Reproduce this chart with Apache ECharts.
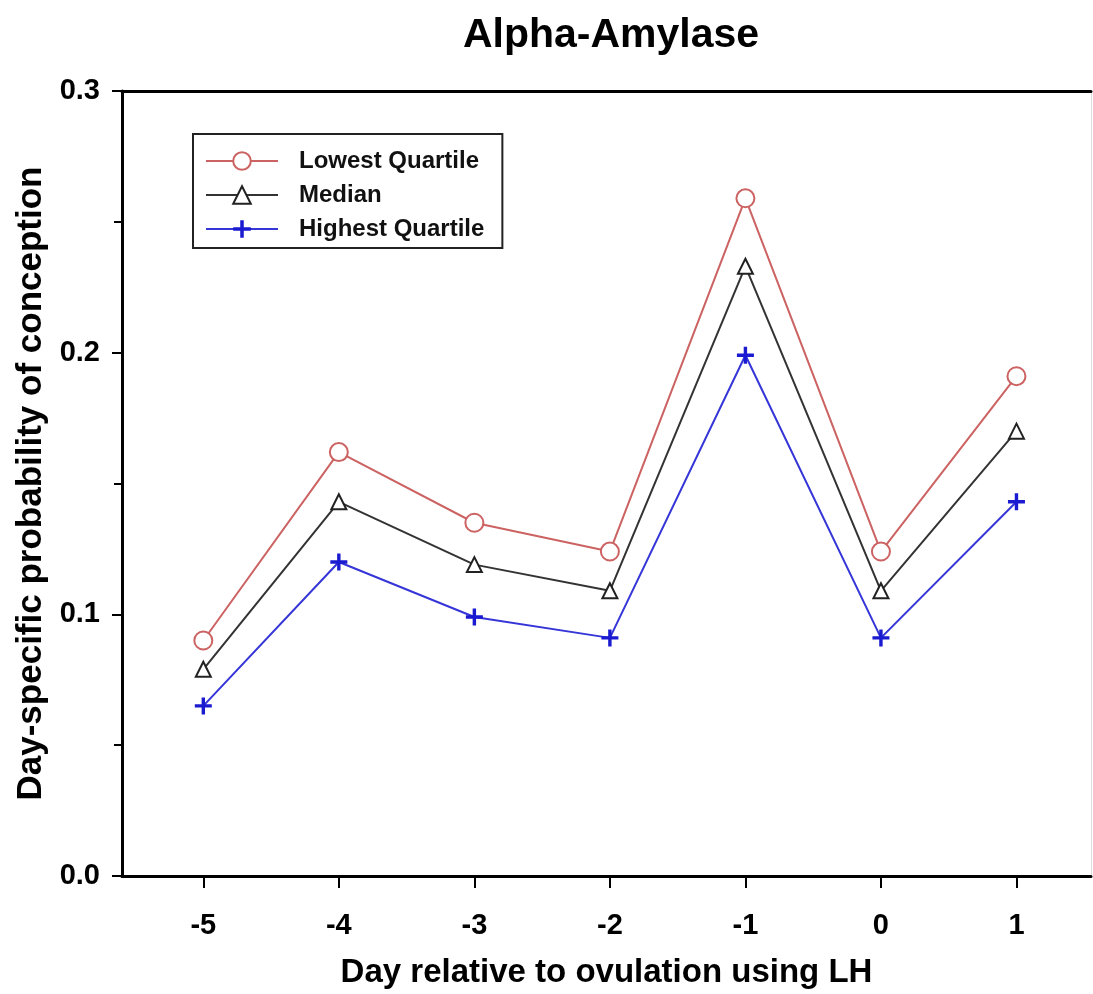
<!DOCTYPE html>
<html>
<head>
<meta charset="utf-8">
<script src="https://cdn.jsdelivr.net/npm/echarts@6/dist/echarts.min.js"></script>
<style>
  html, body { margin: 0; padding: 0; background: #fff; }
  #chart { width: 1093px; height: 994px; }
</style>
</head>
<body>
<div id="chart"></div>
<script>
const days = [-5, -4, -3, -2, -1, 0, 1];
const lowest = [0.090, 0.162, 0.135, 0.124, 0.259, 0.124, 0.191];
const median = [0.079, 0.143, 0.119, 0.109, 0.233, 0.109, 0.170];
const highest = [0.065, 0.120, 0.099, 0.091, 0.199, 0.091, 0.143];

const pair = vals => days.map((d, i) => [d, vals[i]]);
const plus = 'path://M4,0h2v4h4v2h-4v4h-2v-4h-4v-2h4z';
const font = 'Arial, "Liberation Sans", sans-serif';

const chart = echarts.init(document.getElementById('chart'));
chart.setOption({
  backgroundColor: '#fff',
  animation: false,
  title: {
    text: 'Alpha-Amylase',
    left: 606, top: 10, textAlign: 'center',
    textStyle: { fontFamily: font, fontSize: 41, fontWeight: 'bold', color: '#000' }
  },
  legend: {
    orient: 'vertical',
    left: 193, top: 134,
    padding: [15, 18, 7, 12],
    itemWidth: 72, itemHeight: 22, itemGap: 10,
    borderColor: '#222', borderWidth: 2,
    textStyle: { fontFamily: font, fontSize: 24, fontWeight: 'bold', color: '#111', padding: [0, 0, 0, 16] },
    data: ['Lowest Quartile', 'Median', 'Highest Quartile']
  },
  grid: { left: 122, right: 2, top: 91, bottom: 118 },
  xAxis: [
    {
      type: 'value', min: -5.6, max: 1.55,
      name: 'Day relative to ovulation using LH',
      nameLocation: 'middle', nameGap: 80,
      nameTextStyle: { fontFamily: font, fontSize: 33, fontWeight: 'bold', color: '#000' },
      axisLine: { onZero: false, lineStyle: { color: '#000', width: 3 } },
      axisTick: { show: true, length: 12, customValues: days, lineStyle: { color: '#000', width: 2 } },
      axisLabel: { customValues: days, margin: 35, fontFamily: font, fontSize: 29, fontWeight: 'bold', color: '#000' },
      splitLine: { show: false }
    },
    {
      type: 'value', position: 'top', min: -5.6, max: 1.55,
      axisLine: { show: true, onZero: false, lineStyle: { color: '#000', width: 3 } },
      axisTick: { show: false }, axisLabel: { show: false }, splitLine: { show: false }
    }
  ],
  yAxis: [
    {
      type: 'value', min: 0, max: 0.3, interval: 0.1,
      name: 'Day-specific probability of conception',
      nameLocation: 'middle', nameGap: 72,
      nameTextStyle: { fontFamily: font, fontSize: 35, fontWeight: 'bold', color: '#000' },
      axisLine: { show: true, onZero: false, lineStyle: { color: '#000', width: 3 } },
      axisTick: { show: true, length: 10, lineStyle: { color: '#000', width: 2 } },
      minorTick: { show: true, splitNumber: 2, length: 8, lineStyle: { color: '#000', width: 2 } },
      axisLabel: { margin: 22, fontFamily: font, fontSize: 29, fontWeight: 'bold', color: '#000', formatter: v => v.toFixed(1) },
      splitLine: { show: false }
    },
    {
      type: 'value', position: 'right', min: 0, max: 0.3,
      axisLine: { show: true, onZero: false, lineStyle: { color: '#ddd', width: 1 } },
      axisTick: { show: false }, axisLabel: { show: false }, splitLine: { show: false }
    }
  ],
  series: [
    {
      name: 'Lowest Quartile', type: 'line', data: pair(lowest),
      symbol: 'circle', symbolSize: 18,
      lineStyle: { color: '#cc6262', width: 2 },
      itemStyle: { color: '#fff', borderColor: '#cc6262', borderWidth: 2 }
    },
    {
      name: 'Median', type: 'line', data: pair(median),
      symbol: 'triangle', symbolSize: 15,
      lineStyle: { color: '#333', width: 2 },
      itemStyle: { color: '#fff', borderColor: '#222', borderWidth: 2 }
    },
    {
      name: 'Highest Quartile', type: 'line', data: pair(highest),
      symbol: plus, symbolSize: 17,
      lineStyle: { color: '#3535d8', width: 2 },
      itemStyle: { color: '#1a1ad0' }
    }
  ]
});
</script>
</body>
</html>
